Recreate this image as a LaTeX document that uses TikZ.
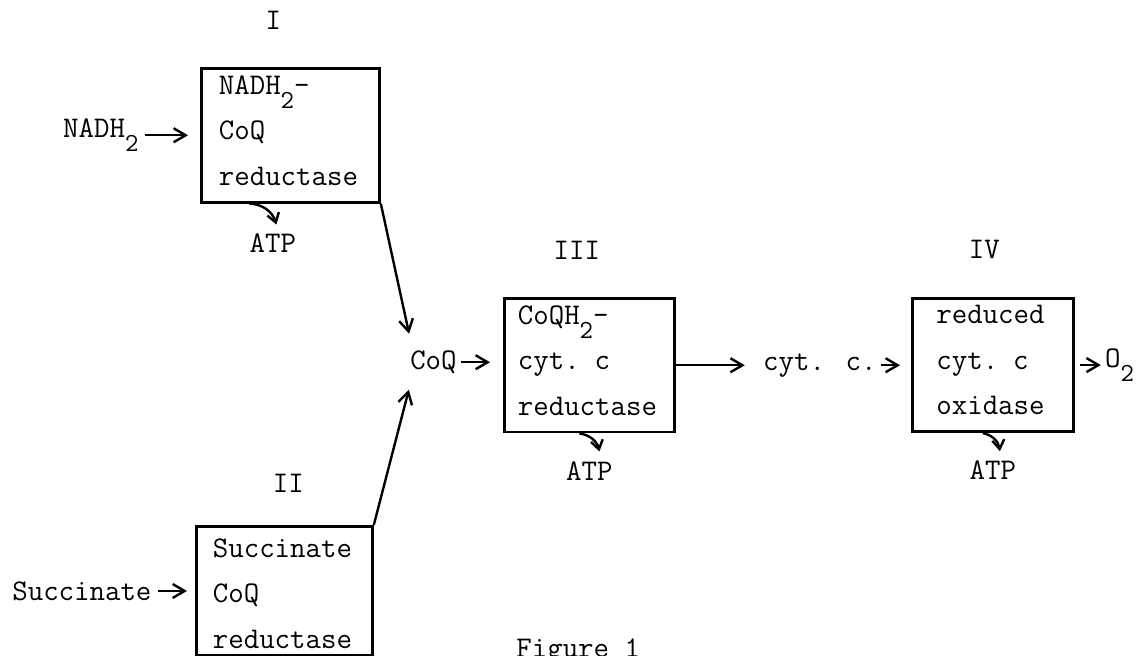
\documentclass[tikz,border=0pt]{standalone}
\usepackage{fontspec}
\usetikzlibrary{arrows.meta, positioning, calc}

\newcommand{\typewr}{\ttfamily\fontsize{15pt}{22.75pt}\selectfont}
\newcommand{\lowsub}[1]{\raisebox{-7pt}{\fontsize{13pt}{13pt}\selectfont #1}}
\newcommand{\lowpad}{\rule[-5pt]{0pt}{5pt}}
\newcommand{\highpad}{\rule{0pt}{12pt}}

\tikzset{
  enzyme/.style={draw, line width=1.4pt, align=left, inner ysep=3.5pt, font=\typewr},
  tag/.style={inner sep=2pt, font=\typewr},
  flow/.style={-{Straight Barb[length=6pt,width=7pt]}, line width=1.2pt},
  atpflow/.style={-{Straight Barb[length=4.5pt,width=6pt]}, line width=1.2pt},
}

\begin{document}
\begin{tikzpicture}[x=0.5pt, y=-0.5pt]
  \useasboundingbox (0,0) rectangle (1146,656);
  % complexes
  \node[enzyme, anchor=north west, inner xsep=8.75pt, text width=71.5pt]
    (boxI) at (200,67) {NADH\lowsub{2}-\\CoQ\\reductase\lowpad};
  \node[enzyme, anchor=north west, inner xsep=8.25pt, text width=71.5pt]
    (boxII) at (195,525) {\highpad Succinate\\CoQ\\reductase};
  \node[enzyme, anchor=north west, inner xsep=6.75pt, text width=71.5pt]
    (boxIII) at (503,297) {CoQH\lowsub{2}-\\cyt. c\\reductase\lowpad};
  \node[enzyme, anchor=north west, inner xsep=12pt, text width=56.5pt]
    (boxIV) at (911,297) {reduced\\cyt. c\\oxidase\lowpad};
  % numerals
  \node[tag, above=16.5pt of boxI, xshift=-8.5pt] (labI) {I};
  \node[tag, above=14pt of boxII, xshift=2pt] (labII) {II};
  \node[tag, above=16.5pt of boxIII, xshift=-6.25pt] (labIII) {III};
  \node[tag, above=17pt of boxIV, xshift=-4.25pt] (labIV) {IV};
  % substrates and carriers
  \node[tag, left=28.6pt of boxI] (nadh) {NADH\lowsub{2}};
  \node[tag, left=19.6pt of boxII] (succ) {Succinate};
  \node[tag, left=21pt of boxIII, yshift=1.5pt] (coq) {CoQ};
  \node[tag, right=41.5pt of boxIII] (cytc) {cyt. c.};
  \node[tag, right=13pt of boxIV] (otwo) {O\lowsub{2}};
  % ATP
  \node[tag, below=13pt of boxI, xshift=-8.75pt] (atpI) {ATP};
  \node[tag, below=12pt of boxIII] (atpIII) {ATP};
  \node[tag, below=11.5pt of boxIV] (atpIV) {ATP};
  \node[tag, anchor=base west] (caption) at (512,658) {Figure 1};

  \draw[flow, shorten <=1pt, shorten >=6pt] (nadh) -- (boxI);
  \draw[flow, shorten <=1pt, shorten >=4pt] (succ) -- (boxII);
  \draw[flow, shorten >=6.5pt] (boxI.south east) -- ([xshift=3pt]coq.north west);
  \draw[flow, shorten >=6pt] (boxII.north east) -- ([xshift=3pt]coq.south west);
  \draw[flow, shorten >=6.5pt] (coq.east) -- (coq.east -| boxIII.west);
  \draw[flow, shorten >=7pt] (boxIII) -- (cytc);
  \draw[flow, shorten >=5.5pt] (cytc.east) -- (cytc.east -| boxIV.west);
  \draw[flow, shorten <=2.5pt] (boxIV) -- (otwo);
  % ATP hooks
  \draw[atpflow] ($(atpI.north |- boxI.south)+(-11.75pt,0)$)
    to[bend left=35] ($(atpI.north)+(1.75pt,2.5pt)$);
  \draw[atpflow] ($(atpIII.north |- boxIII.south)+(-5pt,0)$)
    to[bend left=35] ($(atpIII.north)+(5pt,3pt)$);
  \draw[atpflow] ($(atpIV.north |- boxIV.south)+(-5pt,0)$)
    to[bend left=35] ($(atpIV.north)+(3.5pt,2.5pt)$);
\end{tikzpicture}
\end{document}
